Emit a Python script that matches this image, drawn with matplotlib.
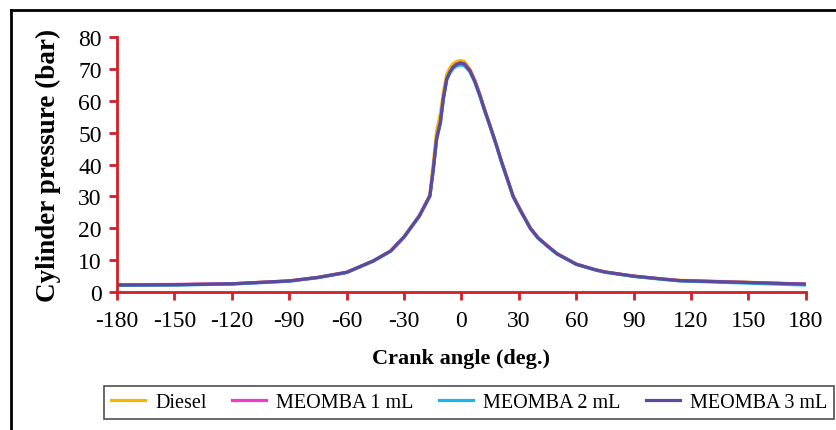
import matplotlib.pyplot as plt
from matplotlib.lines import Line2D

# crank angle (deg.) at which the curves were read
angle = [-180, -150, -120, -90, -75, -60, -46, -37, -30, -22, -16.5, -14.7,
         -13, -11, -9.5, -7.7, -6, -4.4, -2.5, -0.5, 1.5, 4.4, 7, 9.7, 12,
         14.9, 18, 21, 24, 27, 31, 36, 40, 45, 50, 60, 70, 75, 90, 105, 114,
         150, 180]

# cylinder pressure (bar)
diesel = [2.2, 2.3, 2.6, 3.5, 4.6, 6.2, 9.8, 12.9, 17.4, 24.0, 30.4, 40.5,
          50.5, 56.0, 62.5, 68.2, 70.3, 71.6, 72.3, 72.6, 72.3, 70.0, 66.5,
          62.0, 57.6, 52.4, 46.7, 40.8, 35.4, 30.0, 25.4, 20.0, 17.0, 14.4,
          12.0, 8.8, 7.0, 6.3, 5.0, 4.1, 3.7, 3.1, 2.4]
meomba_1 = [2.3, 2.4, 2.6, 3.5, 4.6, 6.2, 9.8, 12.9, 17.3, 23.9, 30.2, 38.8,
            48.2, 53.5, 60.8, 66.9, 69.1, 70.6, 71.5, 71.9, 71.6, 69.5, 66.1,
            61.6, 57.3, 52.2, 46.6, 40.8, 35.5, 30.1, 25.5, 20.1, 17.1, 14.5,
            12.0, 8.8, 7.0, 6.3, 5.0, 4.1, 3.6, 3.0, 2.5]
meomba_2 = [2.1, 2.2, 2.5, 3.4, 4.5, 6.1, 9.7, 12.8, 17.2, 23.8, 30.1, 38.5,
            47.8, 53.0, 60.3, 66.5, 68.7, 70.1, 70.9, 71.2, 71.0, 69.1, 65.8,
            61.3, 57.0, 52.0, 46.4, 40.6, 35.3, 29.9, 25.3, 19.9, 16.9, 14.3,
            11.9, 8.7, 6.9, 6.2, 4.9, 4.0, 3.5, 2.8, 2.2]
meomba_3 = [2.2, 2.3, 2.6, 3.5, 4.6, 6.2, 9.8, 12.9, 17.3, 23.9, 30.2, 38.6,
            48.0, 53.3, 60.6, 66.8, 69.0, 70.5, 71.4, 71.8, 71.5, 69.4, 66.0,
            61.5, 57.2, 52.1, 46.5, 40.7, 35.4, 30.0, 25.4, 20.0, 17.0, 14.4,
            12.0, 8.7, 7.0, 6.3, 5.0, 4.1, 3.6, 3.0, 2.5]

labels = ['Diesel', 'MEOMBA 1 mL', 'MEOMBA 2 mL', 'MEOMBA 3 mL']
colors = ['#F5B400', '#F23ACB', '#1DB3EE', '#5E4A9A']
x_ticks = [-180, -150, -120, -90, -60, -30, 0, 30, 60, 90, 120, 150, 180]
y_ticks = [0, 10, 20, 30, 40, 50, 60, 70, 80]

plt.rcParams['font.family'] = ['Liberation Serif', 'DejaVu Serif']
plt.rcParams['axes.unicode_minus'] = False

fig = plt.figure(figsize=(8.36, 4.31), dpi=100)
ax = fig.add_axes([0.140, 0.320, 0.824, 0.592])

for series, label, color in zip([diesel, meomba_1, meomba_2, meomba_3],
                                labels, colors):
    ax.plot(angle, series, color=color, lw=2.3, label=label)

red = '#D01F26'
ax.set_xlim(-180, 180)
ax.set_ylim(0, 80)
ax.set_xticks(x_ticks)
ax.set_yticks(y_ticks)
ax.spines['top'].set_visible(False)
ax.spines['right'].set_visible(False)
for side in ['left', 'bottom']:
    ax.spines[side].set_color(red)
    ax.spines[side].set_linewidth(2)
ax.tick_params(axis='x', direction='out', color=red, width=2, length=6,
               labelsize=17, pad=7)
ax.tick_params(axis='y', direction='out', color=red, width=2, length=6,
               labelsize=17, pad=5)

ax.set_xlabel('Crank angle (deg.)', fontsize=16, fontweight='bold',
              labelpad=12)
ax.set_ylabel('Cylinder pressure (bar)', fontsize=19.5, fontweight='bold',
              labelpad=12)

leg = fig.legend(loc='lower right', bbox_to_anchor=(0.998, 0.025), ncol=4,
                 fontsize=14.5, frameon=True, fancybox=False,
                 borderaxespad=0, handlelength=1.7, columnspacing=1.25,
                 handletextpad=0.5, borderpad=0.35)
leg.get_frame().set_edgecolor('#222222')
leg.get_frame().set_linewidth(1.2)

# partial outer frame of the original figure
fig.add_artist(Line2D([11 / 836, 11 / 836], [0, 1 - 11 / 431],
                      color='black', lw=2, transform=fig.transFigure))
fig.add_artist(Line2D([11 / 836, 1], [1 - 11 / 431, 1 - 11 / 431],
                      color='black', lw=2, transform=fig.transFigure))

plt.savefig('out.png', dpi=100)
